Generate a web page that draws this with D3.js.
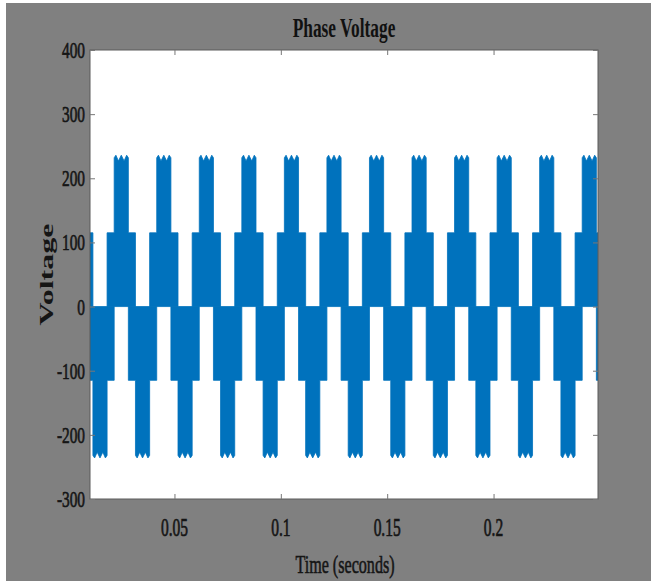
<!DOCTYPE html>
<html>
<head>
<meta charset="utf-8">
<script src="https://cdn.jsdelivr.net/npm/d3@7"></script>
<style>
  html, body { margin: 0; padding: 0; background: #ffffff; }
  svg { display: block; }
</style>
</head>
<body>
<svg id="chart" width="651" height="581"></svg>
<script>
// ---- data ----
const title = "Phase Voltage";
const xLabel = "Time (seconds)";
const yLabel = "Voltage";
const xDomain = [0.0103, 0.2491];
const yDomain = [-300, 400];
const xTicks = [0.05, 0.1, 0.15, 0.2];
const xTickLabels = ["0.05", "0.1", "0.15", "0.2"];
const yTicks = [-300, -200, -100, 0, 100, 200, 300, 400];
const yTickLabels = ["-300", "-200", "-100", "0", "100", "200", "300", "400"];
// centres (s) of the positive and negative steps of the PWM phase voltage
const positiveCentres = [0.005, 0.025, 0.045, 0.065, 0.085, 0.105, 0.125, 0.145, 0.165, 0.185, 0.205, 0.225, 0.245];
const negativeCentres = [0.015, 0.035, 0.055, 0.075, 0.095, 0.115, 0.135, 0.155, 0.175, 0.195, 0.215, 0.235, 0.255];
// half widths (s) of the 1/3 Vdc block and of the 2/3 Vdc step
const blockHalfWidth = 0.00667;
const stepHalfWidth = 0.00333;
const lowLevel = 115;          // V, 1/3 Vdc level
// ripple on top of the 2/3 Vdc step: position across the step, level (V)
const rippleFrac = [0, 0.12, 0.3, 0.5, 0.7, 0.88, 1];
const rippleLevel = [232, 236, 227, 236, 227, 236, 232];

// ---- layout ----
const svg = d3.select("#chart");
const W = 651, H = 581;
const plot = { left: 90, right: 598, top: 50, bottom: 499 };
const sx = 0.62;  // horizontal squeeze of the lettering in the picture
const font = "'Liberation Serif', 'Times New Roman', serif";
const blue = "#0072BD";
const ink = "#151515";

svg.append("rect").attr("x", 6).attr("y", 3).attr("width", W - 6).attr("height", H - 3).attr("fill", "#808080");

const x = d3.scaleLinear().domain(xDomain).range([plot.left, plot.right]);
const y = d3.scaleLinear().domain(yDomain).range([plot.bottom, plot.top]);

svg.append("rect").attr("x", plot.left).attr("y", plot.top)
  .attr("width", plot.right - plot.left).attr("height", plot.bottom - plot.top).attr("fill", "#ffffff");

svg.append("clipPath").attr("id", "clip").append("rect")
  .attr("x", plot.left).attr("y", plot.top)
  .attr("width", plot.right - plot.left).attr("height", plot.bottom - plot.top);

const line = d3.line().x(d => x(d[0])).y(d => y(d[1]));

function cycleShape(c, sign) {
  const pts = [];
  pts.push([c - blockHalfWidth, 0]);
  pts.push([c - blockHalfWidth, sign * lowLevel]);
  pts.push([c - stepHalfWidth, sign * lowLevel]);
  rippleFrac.forEach((f, i) => {
    pts.push([c - stepHalfWidth + f * 2 * stepHalfWidth, sign * rippleLevel[i]]);
  });
  pts.push([c + stepHalfWidth, sign * lowLevel]);
  pts.push([c + blockHalfWidth, sign * lowLevel]);
  pts.push([c + blockHalfWidth, 0]);
  return pts;
}

const g = svg.append("g").attr("clip-path", "url(#clip)");
g.selectAll("path.pos").data(positiveCentres).enter().append("path")
  .attr("class", "pos")
  .attr("d", c => line(cycleShape(c, 1)) + "Z")
  .attr("fill", blue).attr("stroke", blue).attr("stroke-width", 0.8);
g.selectAll("path.neg").data(negativeCentres).enter().append("path")
  .attr("class", "neg")
  .attr("d", c => line(cycleShape(c, -1)) + "Z")
  .attr("fill", blue).attr("stroke", blue).attr("stroke-width", 0.8);

// box
svg.append("rect").attr("x", plot.left).attr("y", plot.top)
  .attr("width", plot.right - plot.left).attr("height", plot.bottom - plot.top)
  .attr("fill", "none").attr("stroke", "#5a5a5a").attr("stroke-width", 1);

// axes with inward ticks
const tickLen = 5;
const axB = svg.append("g").attr("transform", `translate(0,${plot.bottom})`)
  .call(d3.axisBottom(x).tickValues(xTicks).tickSize(-tickLen).tickFormat(""));
const axT = svg.append("g").attr("transform", `translate(0,${plot.top})`)
  .call(d3.axisTop(x).tickValues(xTicks).tickSize(-tickLen).tickFormat(""));
const axL = svg.append("g").attr("transform", `translate(${plot.left},0)`)
  .call(d3.axisLeft(y).tickValues(yTicks).tickSize(-tickLen).tickFormat(""));
const axR = svg.append("g").attr("transform", `translate(${plot.right},0)`)
  .call(d3.axisRight(y).tickValues(yTicks).tickSize(-tickLen).tickFormat(""));
[axB, axT, axL, axR].forEach(a => {
  a.select(".domain").remove();
  a.selectAll(".tick line").attr("stroke", "#777").attr("stroke-width", 1);
});

// tick labels (squeezed text like the picture)
svg.append("g").selectAll("text").data(xTicks).enter().append("text")
  .attr("transform", d => `translate(${x(d)},536) scale(${sx},1)`)
  .attr("text-anchor", "middle")
  .attr("font-family", font).attr("font-size", 25).attr("fill", ink)
  .attr("stroke", ink).attr("stroke-width", 0.7)
  .text((d, i) => xTickLabels[i]);

svg.append("g").selectAll("text").data(yTicks).enter().append("text")
  .attr("transform", d => `translate(85,${y(d) + 8}) scale(0.64,1)`)
  .attr("text-anchor", "end")
  .attr("font-family", font).attr("font-size", 24).attr("fill", ink)
  .attr("stroke", ink).attr("stroke-width", 0.7)
  .text((d, i) => yTickLabels[i]);

// title and axis labels
svg.append("text")
  .attr("transform", `translate(${(plot.left + plot.right) / 2},37) scale(${sx},1)`)
  .attr("text-anchor", "middle").attr("font-family", font).attr("font-weight", "bold")
  .attr("font-size", 28).attr("fill", "#111").text(title);

svg.append("text")
  .attr("transform", `translate(${(plot.left + plot.right) / 2 + 1},573) scale(${sx},1)`)
  .attr("text-anchor", "middle").attr("font-family", font)
  .attr("font-size", 26).attr("fill", ink)
  .attr("stroke", ink).attr("stroke-width", 0.6).text(xLabel);

svg.append("text")
  .attr("transform", `translate(53,${(plot.top + plot.bottom) / 2}) rotate(-90) scale(1,${sx})`)
  .attr("text-anchor", "middle").attr("font-family", font).attr("font-weight", "bold")
  .attr("font-size", 32).attr("fill", ink).text(yLabel);
</script>
</body>
</html>
